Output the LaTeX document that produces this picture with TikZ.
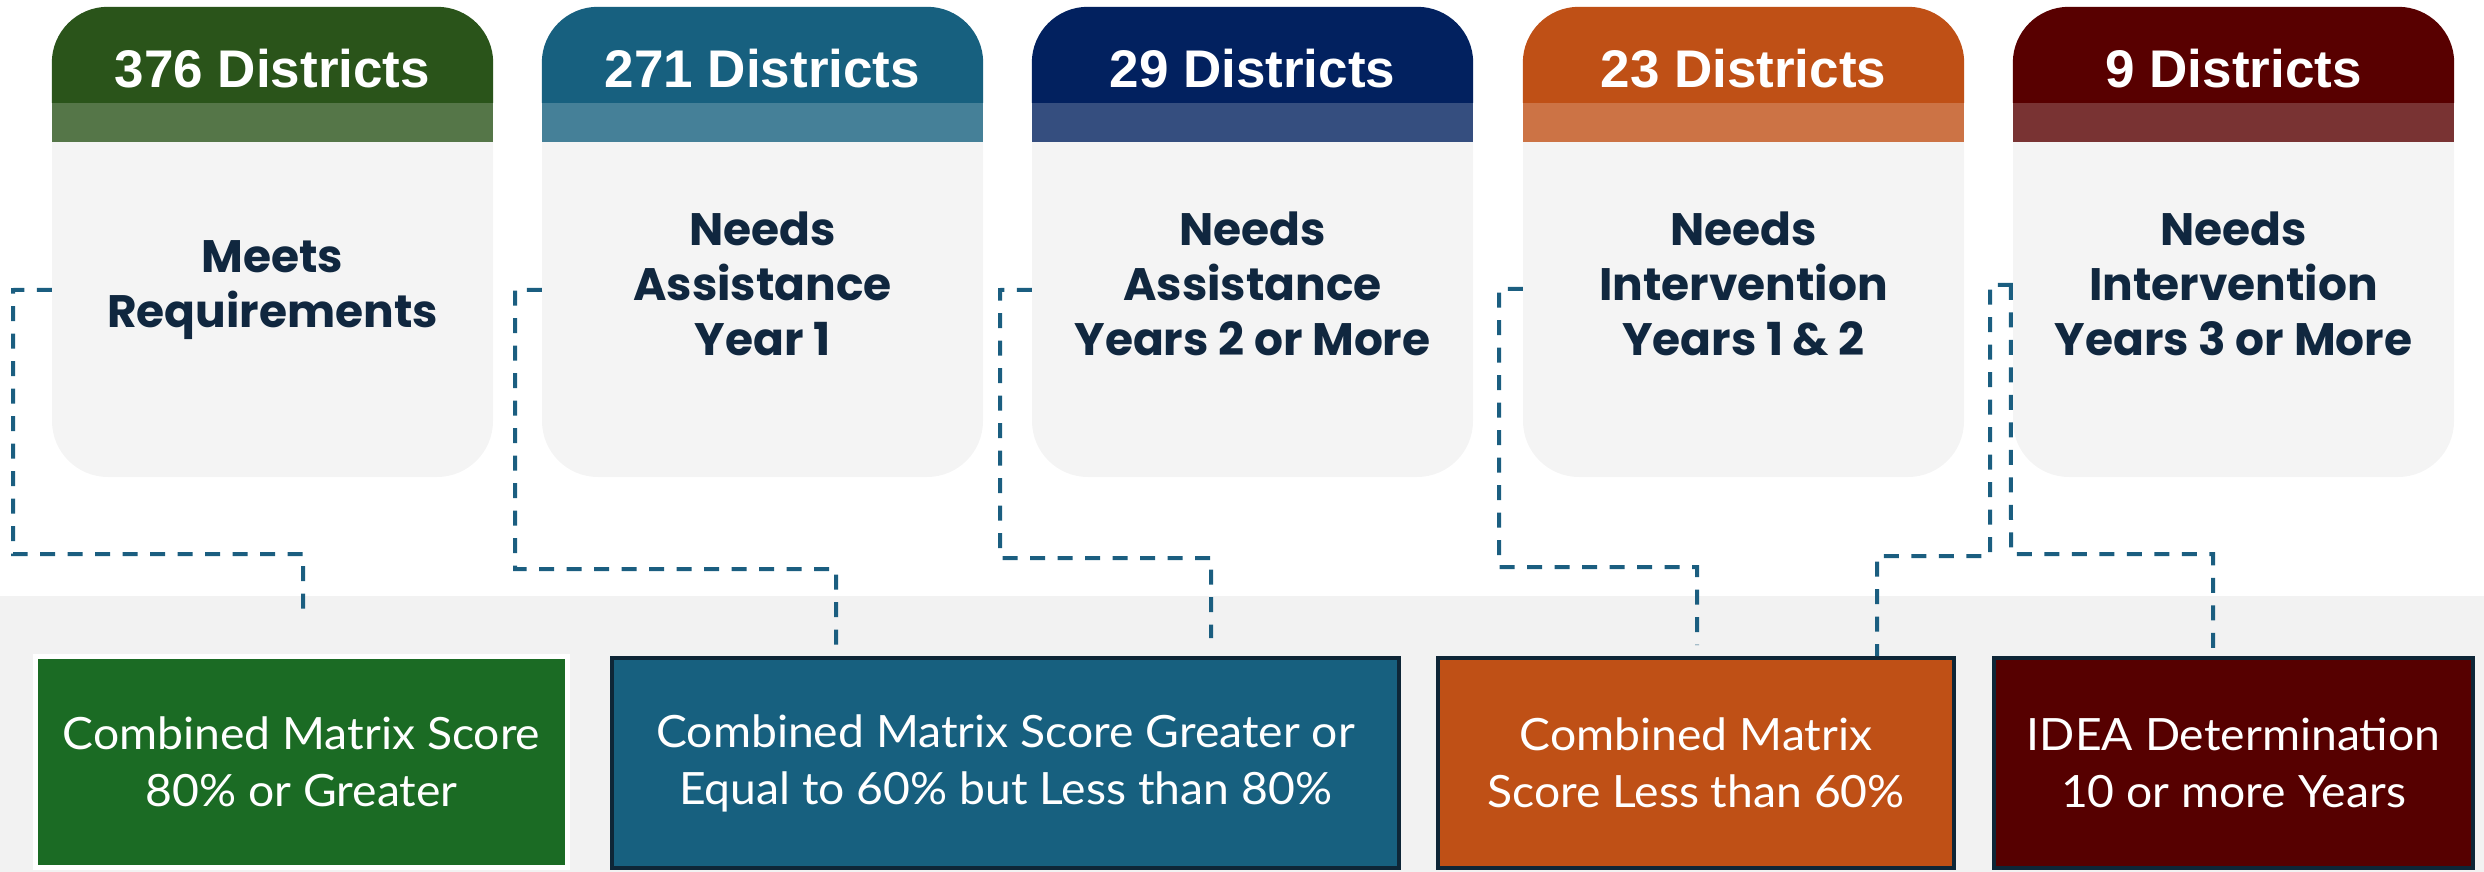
\documentclass[tikz,border=0pt]{standalone}
\usepackage{fontspec}
\usetikzlibrary{calc}
\newfontfamily\hdrfont{Liberation Sans}
\newfontfamily\popfont{Poppins}
\newfontfamily\boxfont[FakeStretch=1.04]{Lato}
\definecolor{hA}{HTML}{2A541A}
\definecolor{hB}{HTML}{17607F}
\definecolor{hC}{HTML}{02215F}
\definecolor{hD}{HTML}{BF5016}
\definecolor{hE}{HTML}{580000}
\definecolor{cardgray}{HTML}{F4F4F4}
\definecolor{navy}{HTML}{10273F}
\definecolor{bandgray}{HTML}{F2F2F2}
\definecolor{boxgreen}{HTML}{1B6B24}
\definecolor{boxblue}{HTML}{17607F}
\definecolor{boxorange}{HTML}{BF5016}
\definecolor{boxred}{HTML}{560000}
\definecolor{boxborder}{HTML}{0E2637}
\definecolor{dashblue}{HTML}{1B5E80}
\newcommand\mkcard[6]{%
  \node[card] (#1) at (#2,242) {};
  \fill[#3] ($(#1.north west)+(0,96)$) [rounded corners=56pt] -- (#1.north west) -- (#1.north east) [sharp corners] -- ($(#1.north east)+(0,96)$) -- cycle;
  \fill[#3!80!white] ($(#1.north west)+(0,96)$) rectangle ($(#1.north east)+(0,135)$);
  \node[hdrtext] (#1h) at ($(#1.north)+(0,81)$) {#4};
  \node[bodytext] (#1t) at ($(#1.north)+(0,#6)$) {#5};
}
\begin{document}
\begin{tikzpicture}[x=1pt,y=-1pt,
  card/.style={fill=cardgray, rounded corners=56pt, minimum width=441pt, minimum height=470pt, inner sep=0pt, draw=none},
  hdrtext/.style={text=white, font=\hdrfont\bfseries\fontsize{53}{60}\selectfont, anchor=base, inner sep=0pt},
  bodytext/.style={text=navy, font=\popfont\bfseries\fontsize{45.5}{55}\selectfont, align=center, inner sep=0pt},
  result/.style={font=\boxfont\fontsize{44.5}{57}\selectfont, text=white, align=center, inner sep=0pt, line width=4pt, draw=boxborder},
  conn/.style={draw=dashblue, line width=4pt, dash pattern=on 15pt off 12.5pt}
]
\useasboundingbox (0,0) rectangle (2484,872);
\fill[bandgray] (0,596) rectangle (2484,872);

\mkcard{c1}{272.5}{hA}{376 Districts}{Meets\\Requirements}{283}
\mkcard{c2}{762.5}{hB}{271 Districts}{Needs\\Assistance\\Year 1}{277}
\mkcard{c3}{1252.5}{hC}{29 Districts}{Needs\\Assistance\\Years 2 or More}{277}
\mkcard{c4}{1743.5}{hD}{23 Districts}{Needs\\Intervention\\Years 1 \& 2}{277}
\mkcard{c5}{2233.5}{hE}{9 Districts}{Needs\\Intervention\\Years 3 or More}{277}

\node[result, fill=boxgreen, draw=white, line width=5pt, minimum width=532pt, minimum height=211pt] (b1) at (301.5,762) {Combined Matrix Score\\80\% or Greater};
\node[result, fill=boxblue, minimum width=787pt, minimum height=210pt] (b2) at (1005.5,763) {Combined Matrix Score Greater or\\Equal to 60\% but Less than 80\%};
\node[result, fill=boxorange, minimum width=516pt, minimum height=210pt] (b3) at (1696,763) {Combined Matrix\\Score Less than 60\%};
\node[result, fill=boxred, minimum width=479pt, minimum height=210pt] (b4) at (2233.5,763) {IDEA Determination\\10 or more Years};

\coordinate (e1) at ($(b1.north)+(1.5,-33)$);
\coordinate (e3) at (1211,638);
\coordinate (e4) at (1697,645);

\draw[conn] ($(c1.north west)+(0,283)$) -- (13,290) -- (13,554) -- (303,554) -- (e1);
\draw[conn] ($(c2.north west)+(0,283)$) -- (515,290) -- (515,569) -- (836,569) -- (836,0 |- b2.north);
\draw[conn] ($(c3.north west)+(0,283)$) -- (1000,290) -- (1000,558) -- (1211,558) -- (e3);
\draw[conn] ($(c4.north west)+(0,282)$) -- (1499,289) -- (1499,567) -- (1697,567) -- (e4);
\draw[conn] ($(c5.north west)+(0,278)$) -- (1990,285) -- (1990,556) -- (1877,556) -- (1877,0 |- b3.north);
\draw[conn] ($(c5.north west)+(-2,278)$) -- (2011,554) -- (2213,554) -- (2213,0 |- b4.north);
\end{tikzpicture}
\end{document}
